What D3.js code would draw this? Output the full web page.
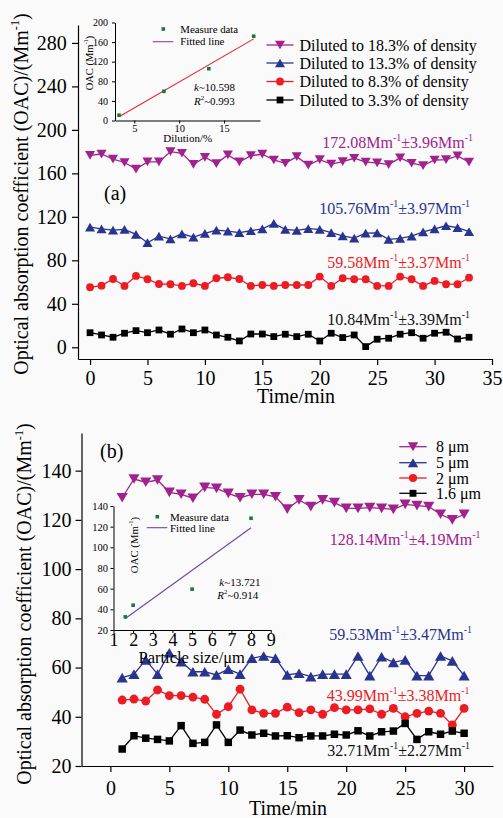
<!DOCTYPE html>
<html>
<head>
<meta charset="utf-8">
<script src="https://cdn.jsdelivr.net/npm/d3@7"></script>
<style>
  html, body { margin: 0; padding: 0; background: #fafafa; }
  svg { display: block; font-family: "Liberation Serif", "Times New Roman", serif; }
</style>
</head>
<body>
<svg id="chart" width="503" height="818"></svg>
<script>
// ---------- Panel (a): dilution series, OAC per minute ----------
const minutesA = [0,1,2,3,4,5,6,7,8,9,10,11,12,13,14,15,16,17,18,19,20,21,22,23,24,25,26,27,28,29,30,31,32,33];
const oacDil183 = [176.5,177.8,173,170,164,170.5,170.5,180,178.5,168.2,174.8,169,177,170.5,176.3,177.6,172.3,169.3,175.4,167.5,172.6,168.5,170.8,173.9,170.3,169.7,168.1,174.3,169.3,167.2,172.3,172.6,176.1,170.3];
const oacDil133 = [110.6,109,107.8,108.5,103.9,96.2,102.3,99.8,104.4,101.4,104.8,107.8,106.9,105.4,107.2,109,114,108.5,107.5,109.2,108.5,105.4,102.5,100.5,105,105.3,99.3,100.2,102.3,106.1,109,111.8,110,106.3];
const oacDil83 = [55.2,56.7,62.8,56.4,65.6,62.6,58.2,58,56.4,58.9,56.4,63.5,64.4,62.8,56.4,57.3,56.4,57.3,57.3,57.3,65,56.4,63.5,62.6,62.6,56.4,56.4,65,62.6,56.4,61,58,58,64];
const oacDil33 = [13.4,11.3,9.2,12.9,15.3,13.4,15.9,12,16.8,13.4,15.9,11.3,9.2,5.8,12.2,12.2,9.8,12,9.8,12,5.8,12.9,8.9,11.3,0.6,7.4,8.3,12,13.4,8.3,12.9,13.8,7.6,9.2];
const legendA = ["Diluted to 18.3% of density", "Diluted to 13.3% of density", "Diluted to 8.3% of density", "Diluted to 3.3% of density"];
const meanA = [172.08, 105.76, 59.58, 10.84];
const sdA = [3.96, 3.97, 3.37, 3.39];
const ticksAY = [0, 40, 80, 120, 160, 200, 240, 280];
const ticksAX = [0, 5, 10, 15, 20, 25, 30, 35];

// inset (a): mean OAC against dilution
const dilutionPct = [3.3, 8.3, 13.3, 18.3];
const dilutionOAC = [10.84, 59.58, 105.76, 172.08];
const fitDilutionK = 10.598, fitDilutionB = -27.39, fitDilutionR2 = 0.993;
const insetATicksY = [0, 40, 80, 120, 160, 200];
const insetATicksX = [5, 10, 15];

// ---------- Panel (b): particle size series ----------
const minutesB = [1,2,3,4,5,6,7,8,9,10,11,12,13,14,15,16,17,18,19,20,21,22,23,24,25,26,27,28,29,30];
const oacSize8 = [129,136.6,135.3,136.2,131.2,130.4,128.8,133.2,132.8,130.8,129,130.4,130.4,129.4,124.4,128.1,125.4,128.1,127,124.7,124.7,125,124.7,124.3,126.3,125.8,125.4,122.3,120,122.3];
const oacSize5 = [55.9,57.3,63.1,57.3,66,62.4,58.3,58.3,57,59.3,57.3,63.8,64.7,63.8,57,57.7,56.3,57.3,57.3,57.3,64.7,56.7,64.4,62.1,63.1,56.7,56.7,64.7,62.7,56.7];
const oacSize2 = [46.8,47.2,46.4,50.9,48.6,48.6,48,47.1,41,44.1,51.2,42.8,41.4,41.4,43.9,41.7,42.8,41,43.7,42.8,42.8,43.2,41,43.4,40,41.4,42.3,41.4,36.7,43.4];
const oacSize16 = [26.9,32.3,31.3,30.8,30.2,36.4,29.2,29.6,36.7,29.6,34.6,32.6,33.3,32.2,32.3,31.5,32.2,32.2,32.9,32.6,34.3,32.2,33.9,34.2,37.3,30.8,33.9,32.9,34.2,33.3];
const legendB = ["8 \u03bcm", "5 \u03bcm", "2 \u03bcm", "1.6 \u03bcm"];
const meanB = [128.14, 59.53, 43.99, 32.71];
const sdB = [4.19, 3.47, 3.38, 2.27];
const ticksBY = [20, 40, 60, 80, 100, 120, 140];
const ticksBX = [0, 5, 10, 15, 20, 25, 30];

// inset (b): mean OAC against particle size
const sizeUm = [1.6, 2, 5, 8];
const sizeOAC = [32.71, 43.99, 59.53, 128.14];
const fitSizeK = 13.721, fitSizeB = 9.15, fitSizeR2 = 0.914;
const insetBTicksY = [20, 40, 60, 80, 100, 120, 140];
const insetBTicksX = [1, 2, 3, 4, 5, 6, 7, 8, 9];

// ---------- styles ----------
const PURPLE = "#a0228d", BLUE = "#29348f", RED = "#ec1c24", BLACK = "#000000";
const GREEN = "#15793c";
const colors = [PURPLE, BLUE, RED, BLACK];

// triangles centred on their bounding box
const triUp = { draw(ctx, size) {
  const s = Math.sqrt(size * 4 / Math.sqrt(3)), h = s * Math.sqrt(3) / 2;
  ctx.moveTo(0, -h / 2); ctx.lineTo(s / 2, h / 2); ctx.lineTo(-s / 2, h / 2); ctx.closePath();
}};
const triDown = { draw(ctx, size) {
  const s = Math.sqrt(size * 4 / Math.sqrt(3)), h = s * Math.sqrt(3) / 2;
  ctx.moveTo(0, h / 2); ctx.lineTo(s / 2, -h / 2); ctx.lineTo(-s / 2, -h / 2); ctx.closePath();
}};
const shapes = [triDown, triUp, d3.symbolCircle, d3.symbolSquare];

const svg = d3.select("#chart");
svg.append("rect").attr("width", 503).attr("height", 818).attr("fill", "#fafafa");

// text with raised "-1" style pieces
function richText(parent, x, y, parts, opt) {
  const t = parent.append("text")
    .attr("x", x).attr("y", y)
    .attr("font-size", opt.size)
    .attr("fill", opt.fill || "#000")
    .attr("text-anchor", opt.anchor || "start");
  if (opt.rotate) t.attr("transform", `rotate(-90 ${x} ${y})`);
  let off = 0;
  parts.forEach(p => {
    const shift = p.sup ? -opt.size * 0.42 : 0;
    const ts = t.append("tspan").attr("dy", shift - off)
      .attr("font-size", p.sup ? opt.size * 0.62 : opt.size).text(p.t);
    if (p.italic) ts.attr("font-style", "italic");
    off = shift;
  });
  return t;
}
function statLabel(mean, sd) {
  return [{t: mean.toFixed(2) + "Mm"}, {t: "-1", sup: true}, {t: "\u00b1" + sd.toFixed(2) + "Mm"}, {t: "-1", sup: true}];
}

function styleAxis(g, size, width) {
  g.attr("font-family", null).attr("font-size", size);
  g.selectAll("path.domain").attr("stroke", "#000").attr("stroke-width", width);
  g.selectAll(".tick line").attr("stroke", "#000").attr("stroke-width", width);
  g.selectAll(".tick text").attr("fill", "#000");
}

function drawSeries(g, xs, ys, x, y, color, shape, size) {
  const pts = xs.map((v, i) => [x(v), y(ys[i])]);
  g.append("path").attr("d", d3.line()(pts))
    .attr("fill", "none").attr("stroke", color).attr("stroke-width", 1.3);
  g.selectAll(null).data(pts).join("path")
    .attr("d", d3.symbol(shape, size)())
    .attr("transform", d => `translate(${d[0]},${d[1]})`)
    .attr("fill", color);
}

// ================= Panel (a) =================
{
  const x = d3.scaleLinear().domain([-1.05, 35]).range([78, 492]);
  const y = d3.scaleLinear().domain([-10.8, 296.5]).range([359, 25]);
  const g = svg.append("g");

  const ax = g.append("g").attr("transform", "translate(0,359)")
    .call(d3.axisBottom(x).tickValues(ticksAX).tickSize(6).tickSizeOuter(0).tickPadding(6));
  styleAxis(ax, 20, 1.2);
  const ay = g.append("g").attr("transform", "translate(78,0)")
    .call(d3.axisLeft(y).tickValues(ticksAY).tickSize(6).tickSizeOuter(0).tickPadding(5.3));
  styleAxis(ay, 20, 1.2);

  g.append("text").attr("x", 296).attr("y", 403).attr("text-anchor", "middle")
    .attr("font-size", 20).text("Time/min");
  richText(g, 27.5, 194, [{t: "Optical absorption coefficient (OAC)/(Mm"}, {t: "-1", sup: true}, {t: ")"}],
    {size: 20, anchor: "middle", rotate: true});
  g.append("text").attr("x", 104).attr("y", 200).attr("font-size", 20).text("(a)");

  const series = [oacDil183, oacDil133, oacDil83, oacDil33];
  const sizes = [44, 44, 48, 46];
  series.forEach((s, i) => drawSeries(g, minutesA, s, x, y, colors[i], shapes[i], sizes[i]));

  // mean ± sd labels
  const statY = [147.5, 213.5, 268, 324.5];
  const statX = [473, 470, 470, 470];
  meanA.forEach((m, i) => richText(g, statX[i], statY[i], statLabel(m, sdA[i]),
    {size: 16, anchor: "end", fill: colors[i] === BLACK ? "#111" : colors[i]}));

  // legend
  const legY = [45, 63, 81.5, 100];
  legendA.forEach((label, i) => {
    g.append("line").attr("x1", 266.5).attr("x2", 293.5).attr("y1", legY[i]).attr("y2", legY[i])
      .attr("stroke", colors[i]).attr("stroke-width", 1.3);
    g.append("path").attr("d", d3.symbol(shapes[i], sizes[i])())
      .attr("transform", `translate(280,${legY[i]})`).attr("fill", colors[i]);
    g.append("text").attr("x", 299.5).attr("y", legY[i] + 5.5).attr("font-size", 16).text(label);
  });

  // ---- inset (a) ----
  const ix = d3.scaleLinear().domain([2.85, 19]).range([115, 260]);
  const iy = d3.scaleLinear().domain([0, 200]).range([120.5, 22.5]);
  const ig = svg.append("g");
  const iax = ig.append("g").attr("transform", "translate(0,120.5)")
    .call(d3.axisBottom(ix).tickValues(insetATicksX).tickSize(3).tickSizeOuter(0).tickPadding(1.5));
  styleAxis(iax, 10.5, 1);
  const iay = ig.append("g").attr("transform", "translate(115,0)")
    .call(d3.axisLeft(iy).tickValues(insetATicksY).tickSize(3).tickSizeOuter(0).tickPadding(4));
  styleAxis(iay, 10, 1);

  ig.append("text").attr("x", 187.7).attr("y", 141.5).attr("text-anchor", "middle")
    .attr("font-size", 11).text("Dilution/%");
  richText(ig, 92.5, 63, [{t: "OAC (Mm"}, {t: "-1", sup: true}, {t: ")"}],
    {size: 10.5, anchor: "middle", rotate: true});

  const fx = [dilutionPct[0], dilutionPct[dilutionPct.length - 1]];
  ig.append("path").attr("d", d3.line()(fx.map(v => [ix(v), iy(fitDilutionK * v + fitDilutionB)])))
    .attr("stroke", "#e8262b").attr("stroke-width", 1.1).attr("fill", "none");
  ig.selectAll(null).data(dilutionPct).join("rect")
    .attr("x", (d) => ix(d) - 1.8).attr("y", (d, i) => iy(dilutionOAC[i]) - 1.8)
    .attr("width", 3.6).attr("height", 3.6).attr("fill", GREEN);

  ig.append("rect").attr("x", 161.5).attr("y", 27.2).attr("width", 3.6).attr("height", 3.6).attr("fill", GREEN);
  ig.append("text").attr("x", 180.3).attr("y", 32.5).attr("font-size", 10.8).text("Measure data");
  ig.append("line").attr("x1", 152.7).attr("x2", 173.3).attr("y1", 41.7).attr("y2", 41.7)
    .attr("stroke", "#96409a").attr("stroke-width", 1.1);
  ig.append("text").attr("x", 180.3).attr("y", 45.3).attr("font-size", 10.8).text("Fitted line");

  richText(ig, 194, 91, [{t: "k", italic: true}, {t: "~" + fitDilutionK.toFixed(3)}], {size: 11});
  richText(ig, 194, 104.7, [{t: "R", italic: true}, {t: "2", sup: true}, {t: "~" + fitDilutionR2.toFixed(3)}], {size: 11});
}

// ================= Panel (b) =================
{
  const x = d3.scaleLinear().domain([-2.45, 32.45]).range([81.5, 493]);
  const y = d3.scaleLinear().domain([20, 155.3]).range([766, 433]);
  const g = svg.append("g");

  const ax = g.append("g").attr("transform", "translate(0,766)")
    .call(d3.axisBottom(x).tickValues(ticksBX).tickSize(6).tickSizeOuter(0).tickPadding(8.8));
  styleAxis(ax, 20, 1.2);
  const ay = g.append("g").attr("transform", "translate(81.5,0)")
    .call(d3.axisLeft(y).tickValues(ticksBY).tickSize(6).tickSizeOuter(0).tickPadding(4));
  styleAxis(ay, 20, 1.2);

  g.append("text").attr("x", 288).attr("y", 815).attr("text-anchor", "middle")
    .attr("font-size", 20).text("Time/min");
  richText(g, 31, 604, [{t: "Optical absorption coefficient (OAC)/(Mm"}, {t: "-1", sup: true}, {t: ")"}],
    {size: 20, anchor: "middle", rotate: true});
  g.append("text").attr("x", 100).attr("y", 458).attr("font-size", 20).text("(b)");

  const series = [oacSize8, oacSize5, oacSize2, oacSize16];
  const sizes = [54, 54, 62, 56];
  series.forEach((s, i) => drawSeries(g, minutesB, s, x, y, colors[i], shapes[i], sizes[i]));

  const statY = [544.5, 640, 700.5, 756];
  const statX = [480.5, 472, 469.5, 470];
  meanB.forEach((m, i) => richText(g, statX[i], statY[i], statLabel(m, sdB[i]),
    {size: 16, anchor: "end", fill: colors[i] === BLACK ? "#111" : colors[i]}));

  const legY = [446.7, 462.7, 478, 493.3];
  legendB.forEach((label, i) => {
    g.append("line").attr("x1", 399.3).attr("x2", 426.7).attr("y1", legY[i]).attr("y2", legY[i])
      .attr("stroke", colors[i]).attr("stroke-width", 1.3);
    g.append("path").attr("d", d3.symbol(shapes[i], sizes[i] * 0.85)())
      .attr("transform", `translate(413,${legY[i]})`).attr("fill", colors[i]);
    g.append("text").attr("x", 436).attr("y", legY[i] + 5.5).attr("font-size", 16).text(label);
  });

  // ---- inset (b) ----
  const ix = d3.scaleLinear().domain([1, 9]).range([113.5, 270.7]);
  const iy = d3.scaleLinear().domain([20, 140]).range([630, 506]);
  const ig = svg.append("g");
  const iax = ig.append("g").attr("transform", "translate(0,630)")
    .call(d3.axisBottom(ix).tickValues(insetBTicksX).tickSize(3).tickSizeOuter(0).tickPadding(0));
  styleAxis(iax, 18, 1);
  const iay = ig.append("g").attr("transform", "translate(113.5,0)")
    .call(d3.axisLeft(iy).tickValues(insetBTicksY).tickSize(3).tickSizeOuter(0).tickPadding(2.5));
  styleAxis(iay, 10.5, 1);

  ig.append("text").attr("x", 191.7).attr("y", 663).attr("text-anchor", "middle")
    .attr("font-size", 16.5).text("Particle size/\u03bcm");
  richText(ig, 137.5, 545, [{t: "OAC (Mm"}, {t: "-1", sup: true}, {t: ")"}],
    {size: 10.8, anchor: "middle", rotate: true});

  const fx = [sizeUm[0], sizeUm[sizeUm.length - 1]];
  ig.append("path").attr("d", d3.line()(fx.map(v => [ix(v), iy(fitSizeK * v + fitSizeB)])))
    .attr("stroke", "#6c45ad").attr("stroke-width", 1.1).attr("fill", "none");
  ig.selectAll(null).data(sizeUm).join("rect")
    .attr("x", (d) => ix(d) - 1.8).attr("y", (d, i) => iy(sizeOAC[i]) - 1.8)
    .attr("width", 3.6).attr("height", 3.6).attr("fill", GREEN);

  ig.append("rect").attr("x", 155.5).attr("y", 514.9).attr("width", 3.6).attr("height", 3.6).attr("fill", GREEN);
  ig.append("text").attr("x", 170).attr("y", 520.5).attr("font-size", 11).text("Measure data");
  ig.append("line").attr("x1", 146.7).attr("x2", 167.3).attr("y1", 527.7).attr("y2", 527.7)
    .attr("stroke", "#6c45ad").attr("stroke-width", 1.1);
  ig.append("text").attr("x", 170).attr("y", 531.5).attr("font-size", 11).text("Fitted line");

  richText(ig, 219.3, 585.5, [{t: "k", italic: true}, {t: "~" + fitSizeK.toFixed(3)}], {size: 11});
  richText(ig, 217.3, 599, [{t: "R", italic: true}, {t: "2", sup: true}, {t: "~" + fitSizeR2.toFixed(3)}], {size: 11});
}
</script>
</body>
</html>
